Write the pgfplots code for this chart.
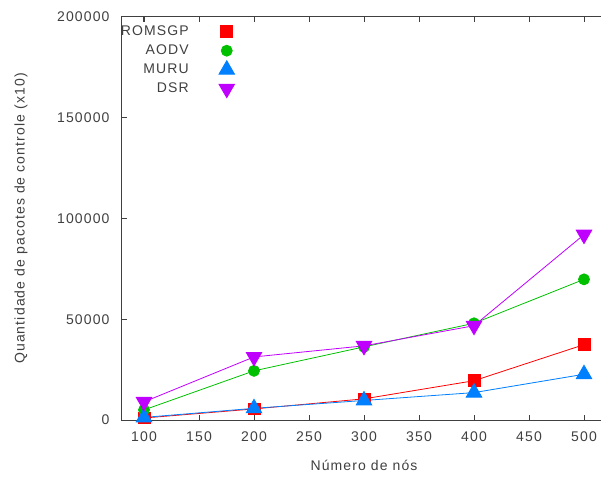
\documentclass[border=0pt]{standalone}
\usepackage{pgfplots}
\pgfplotsset{compat=1.18}
\usepackage{fontspec}
\setmainfont[LetterSpace=8]{Liberation Sans}
\definecolor{cRom}{HTML}{FF0000}
\definecolor{cAodv}{HTML}{00C000}
\definecolor{cMuru}{HTML}{0080FF}
\definecolor{cDsr}{HTML}{C000FF}
\definecolor{ink}{HTML}{404040}
\newcommand{\lblfont}{\fontsize{14}{17}\selectfont}
\begin{document}
\begin{tikzpicture}[x=1pt,y=1pt]
\useasboundingbox (-122,-57) rectangle (479,420);
\begin{axis}[
  at={(0,0)}, anchor=south west,
  scale only axis, width=484pt, height=403pt,
  xmin=80, xmax=520, ymin=0, ymax=200000,
  xtick={100,150,...,500}, ytick={0,50000,...,200000},
  scaled ticks=false,
  xtick pos=both, ytick pos=left,
  tick align=inside, major tick length=5pt,
  axis line style={draw=ink, line width=1pt},
  every tick/.style={draw=ink, line width=1pt},
  tick label style={font=\lblfont, text=ink},
  /pgf/number format/assume math mode=true,
  yticklabel style={/pgf/number format/fixed, /pgf/number format/1000 sep={}, xshift=-9pt},
  xticklabel style={yshift=-8pt},
  xlabel={Número de nós},
  ylabel={Quantidade de pacotes de controle (x10)},
  every axis x label/.style={at={(axis description cs:0.5,-0.1117)}, anchor=center, font=\lblfont, text=ink},
  every axis y label/.style={at={(axis description cs:-0.2087,0.5)}, anchor=center, rotate=90, font=\lblfont, text=ink},
  legend cell align=right,
  legend plot pos=right,
  % legend shows the marker only, with a fixed small footprint so rows stay evenly spaced
  legend image code/.code={%
    \draw[#1,overlay] plot coordinates {(0.3cm,0cm)};
    \path[draw=none,fill=none] (0cm,-2pt) rectangle (0.6cm,2pt);},
  legend style={at={(axis description cs:0.2345,0.9814)}, anchor=north east,
    draw=none, fill=none, inner sep=0pt, row sep=5pt, font=\lblfont, text=ink,
    nodes={inner sep=0pt, text height=11pt, text depth=3pt},
    /tikz/every odd column/.style={column sep=29.5pt}},
]
% control packet counts per protocol
\addplot[cRom, line width=0.8pt, mark=square*, mark size=5.9pt, forget plot]
  coordinates {(100,1000) (200,5500) (300,10500) (400,19500) (500,37400)};
\addplot[cAodv, line width=0.8pt, mark=*, mark size=5.5pt, forget plot]
  coordinates {(100,5000) (200,24400) (300,36300) (400,48000) (500,69800)};
\addplot[cMuru, line width=0.8pt, mark=triangle*, mark size=9pt, forget plot]
  coordinates {(100,1300) (200,5800) (300,9700) (400,13600) (500,22700)};
\addplot[cDsr, line width=0.8pt, mark=triangle*, mark size=9pt, mark options={rotate=180}, forget plot]
  coordinates {(100,9000) (200,31300) (300,36800) (400,46800) (500,92000)};

\addlegendimage{cRom, mark=square*, mark size=5.9pt, line width=0.8pt}
\addlegendentry{ROMSGP}
\addlegendimage{cAodv, mark=*, mark size=5.5pt, line width=0.8pt}
\addlegendentry{AODV}
\addlegendimage{cMuru, mark=triangle*, mark size=9pt, line width=0.8pt}
\addlegendentry{MURU}
\addlegendimage{cDsr, mark=triangle*, mark size=9pt, mark options={rotate=180}, line width=0.8pt}
\addlegendentry{DSR}
\end{axis}
\end{tikzpicture}
\end{document}
